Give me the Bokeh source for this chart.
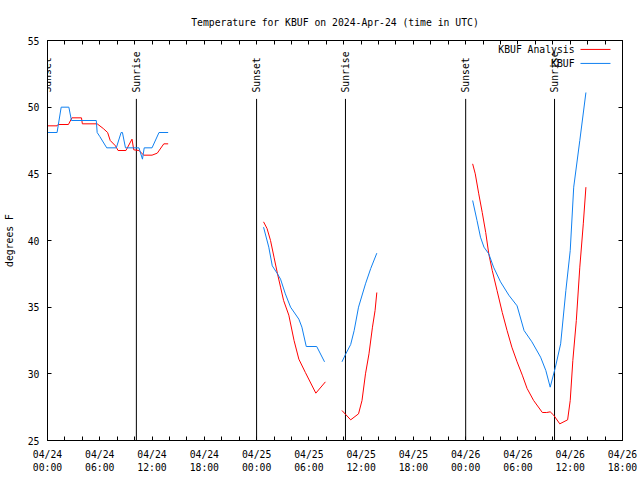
import math
from bokeh.plotting import figure
from bokeh.models import FixedTicker, LinearAxis, Range1d, Label, Arrow, ColumnDataSource
from bokeh.embed import file_html
from bokeh.resources import INLINE
from bokeh.core.properties import value

nan = float("nan")

# ---- data: hours since 2024-04-24 00:00 UTC ----
analysis_hours = [0, 1.1, 1.2, 2.4, 2.8, 3.9, 4.0, 5.7, 6.4, 6.9, 7.2, 7.8, 8.1, 9.0, 9.7, 9.9,
                  10.5, 11.05, 12.0, 12.6, 13.35, 13.85, nan,
                  24.8, 25.2, 25.6, 26.0, 26.4, 26.75, 27.1, 27.7, 28.3, 28.85, 29.6, 30.8, 31.9, nan,
                  33.8, 34.8, 35.7, 36.1, 36.5, 36.9, 37.3, 37.6, 37.8, nan,
                  48.8, 49.1, 49.5, 49.9, 50.3, 50.65, 51.05, 51.6, 52.2, 52.75, 53.3, 53.9, 54.5,
                  55.05, 55.8, 56.8, 57.3, 57.7, 58.1, 58.8, 59.7, 60.0, 60.3, 60.7, 61.1, 61.5, 61.8]
analysis_temps = [48.6, 48.6, 48.7, 48.7, 49.2, 49.2, 48.75, 48.75, 48.4, 48.1, 47.5, 47.1, 46.75, 46.75, 47.6, 46.8,
                  46.75, 46.4, 46.4, 46.55, 47.25, 47.25, nan,
                  41.4, 40.9, 40.0, 38.75, 37.5, 36.5, 35.5, 34.4, 32.5, 31.1, 30.1, 28.55, 29.4, nan,
                  27.25, 26.55, 27.0, 28.0, 30.0, 31.5, 33.5, 34.75, 36.1, nan,
                  45.75, 45.0, 43.5, 42.1, 40.6, 39.0, 37.75, 36.25, 34.6, 33.25, 32.0, 30.9, 29.9,
                  28.9, 28.0, 27.1, 27.1, 27.15, 26.9, 26.25, 26.55, 28.0, 31.0, 34.0, 38.0, 41.25, 44.0]

obs_hours = [0, 1.1, 1.57, 2.45, 2.75, 5.6, 5.7, 6.0, 6.8, 7.9, 8.45, 8.6, 8.95, 10.5, 10.9, 11.1,
             12.0, 12.8, 13.85, nan,
             24.8, 25.4, 25.8, 26.4, 26.75, 27.3, 27.9, 28.85, 29.2, 29.7, 30.9, 31.8, nan,
             33.8, 34.2, 34.8, 35.2, 35.7, 36.5, 37.1, 37.8, nan,
             48.8, 49.3, 49.7, 50.1, 50.65, 51.2, 52.0, 52.95, 53.9, 54.7, 55.6, 56.6, 57.2,
             57.7, 58.3, 58.9, 59.5, 60.0, 60.4, 61.1, 61.8]
obs_temps = [48.1, 48.1, 50.0, 50.0, 49.0, 49.0, 48.1, 47.8, 46.95, 46.95, 48.1, 48.1, 46.95, 46.95, 46.1, 46.95,
             46.95, 48.1, 48.1, nan,
             41.0, 39.5, 38.1, 37.5, 37.1, 36.0, 35.0, 34.1, 33.5, 32.05, 32.05, 30.9, nan,
             30.9, 31.45, 32.2, 33.25, 35.0, 36.75, 37.9, 39.05, nan,
             43.0, 41.5, 40.25, 39.5, 39.0, 38.0, 36.9, 35.9, 35.1, 33.25, 32.4, 31.25, 30.25,
             29.0, 30.5, 32.25, 36.25, 39.25, 44.0, 47.5, 51.1]

event_hours = [0, 10.2, 24, 34.2, 48, 58.2]
event_names = ["Sunset", "Sunrise", "Sunset", "Sunrise", "Sunset", "Sunrise"]

tick_hours = [0, 6, 12, 18, 24, 30, 36, 42, 48, 54, 60, 66]
tick_dates = ["04/24", "04/24", "04/24", "04/24", "04/25", "04/25", "04/25", "04/25",
              "04/26", "04/26", "04/26", "04/26"]
tick_times = ["00:00", "06:00", "12:00", "18:00"] * 3
minor_hours = [h for h in range(0, 67, 2) if h % 6 != 0]
y_ticks = [25, 30, 35, 40, 45, 50, 55]

series_names = ["KBUF Analysis", "KBUF"]
series_colors = ["#ff0000", "#1080f0"]

TITLE = "Temperature for KBUF on 2024-Apr-24 (time in UTC)"
FONT = "DejaVu Sans Mono"
FS = "9.75px"

# ---- figure ----
p = figure(width=640, height=480, x_range=Range1d(0, 66), y_range=Range1d(25, 55),
           output_backend="svg", toolbar_location=None,
           min_border_left=47, min_border_right=18, min_border_top=40, min_border_bottom=40)
p.grid.visible = False
p.outline_line_color = "black"
p.outline_line_width = 1
p.background_fill_color = "white"
p.border_fill_color = "white"

p.title.text = TITLE
p.title.align = "center"
p.title.text_font = FONT
p.title.text_font_size = FS
p.title.text_font_style = "normal"
p.title.text_color = "black"
p.title.standoff = 26


def style_axis(ax):
    ax.axis_line_color = "black"
    ax.major_tick_line_color = "black"
    ax.minor_tick_line_color = "black"
    ax.major_tick_in = 4
    ax.major_tick_out = 0
    ax.minor_tick_in = 4
    ax.minor_tick_out = 0
    ax.major_label_text_font = FONT
    ax.major_label_text_font_size = FS
    ax.major_label_text_color = "black"
    ax.axis_label_text_font = FONT
    ax.axis_label_text_font_size = FS
    ax.axis_label_text_font_style = "normal"
    ax.axis_label_text_color = "black"


xa = p.xaxis[0]
xa.ticker = FixedTicker(ticks=tick_hours, minor_ticks=minor_hours)
xa.major_label_overrides = {t: d + "\n" + tm for t, d, tm in zip(tick_hours, tick_dates, tick_times)}
style_axis(xa)
xa.major_label_standoff = 8

ya = p.yaxis[0]
ya.ticker = FixedTicker(ticks=y_ticks, minor_ticks=[])
style_axis(ya)
ya.major_label_standoff = 8
ya.axis_label = "degrees F"
ya.axis_label_standoff = 10

# mirrored ticks (no labels) on top and right, as in gnuplot
top = LinearAxis(ticker=FixedTicker(ticks=[], minor_ticks=list(range(0, 67, 2))))
style_axis(top)
top.major_label_standoff = 0
p.add_layout(top, "above")

right = LinearAxis(ticker=FixedTicker(ticks=[], minor_ticks=y_ticks))
style_axis(right)
right.major_label_standoff = 0
p.add_layout(right, "right")

# ---- sunrise / sunset markers ----
ev = ColumnDataSource(dict(x=event_hours, name=event_names,
                           y0=[25] * len(event_hours), y1=[50.62] * len(event_hours),
                           yt=[51.1] * len(event_hours)))
p.segment(x0="x", y0="y0", x1="x", y1="y1", source=ev, line_color="black", line_width=1)
p.text(x="x", y="yt", text="name", source=ev, angle=math.pi / 2, text_align="left",
       text_baseline="middle", text_font=value(FONT), text_font_size=value(FS), text_color="black")

# ---- data lines ----
p.line(analysis_hours, analysis_temps, line_color=series_colors[0], line_width=1)
p.line(obs_hours, obs_temps, line_color=series_colors[1], line_width=1)

# ---- legend (gnuplot style: text then sample) ----
leg_y = [54.33, 53.28]
for name, col, ly in zip(series_names, series_colors, leg_y):
    p.add_layout(Label(x=60.5, y=ly, text=name, text_align="right", text_baseline="middle",
                       text_font=FONT, text_font_size=FS, text_color="black"))
    p.add_layout(Arrow(end=None, x_start=61.18, y_start=ly, x_end=64.62, y_end=ly,
                       line_color=col, line_width=1))

open("out.html", "w").write(file_html(p, INLINE))
